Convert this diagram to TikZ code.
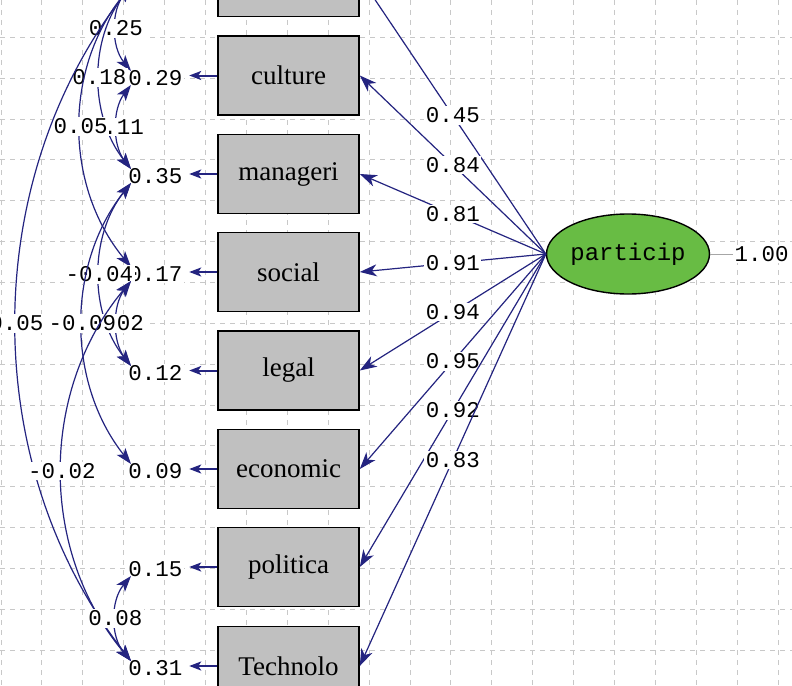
\documentclass[tikz,border=0pt]{standalone}
\usepackage{fontspec}
\setmainfont{Liberation Serif}
\newfontfamily\monofont{Liberation Mono}
\usetikzlibrary{arrows.meta,shapes.geometric,calc}
\definecolor{navy}{RGB}{36,36,128}
\definecolor{gridc}{RGB}{200,200,200}
\definecolor{boxgray}{RGB}{192,192,192}
\definecolor{latgreen}{RGB}{104,188,68}
\begin{document}
\begin{tikzpicture}[x=1pt,y=-1pt,
  obs/.style={rectangle, draw=black, line width=1.6pt, fill=boxgray, minimum width=141pt, minimum height=79pt, inner sep=0pt, font=\fontsize{27}{27}\selectfont},
  lat/.style={ellipse, draw=black, line width=1.4pt, fill=latgreen, minimum width=140pt, minimum height=80pt, inner sep=0pt, font=\monofont\fontsize{24}{24}\selectfont},
  num/.style={font=\monofont\fontsize{22.5}{22.5}\selectfont, inner sep=1.5pt, fill=white, text=black},
  load/.style={draw=navy, line width=1.2pt, -{Stealth[length=17pt,width=12pt,inset=5pt]}},
  errarr/.style={draw=navy, line width=2pt, -{Stealth[length=12pt,width=9pt,inset=3pt]}, shorten >=5pt},
  cov/.style={draw=navy, line width=1.2pt, {Stealth[length=16pt,width=11pt,inset=4pt]}-{Stealth[length=16pt,width=11pt,inset=4pt]}},
  gridline/.style={draw=gridc, line width=1pt, dash pattern=on 5pt off 5pt},
  resline/.style={draw=gray!70, line width=1pt}
]
\useasboundingbox (0,0) rectangle (792,685);
\clip (0,0) rectangle (792,685);
\fill[white] (0,0) rectangle (792,685);
% grid
\foreach \k in {0,...,19} \draw[gridline] ({1+40.9*\k},0) -- ({1+40.9*\k},685);
\foreach \k in {0,...,17} \draw[gridline] (0,{-3.5+40.85*\k}) -- (792,{-3.5+40.85*\k});
% observed variables
\node[obs] (v0) at (288.5,-23) {};
\node[obs] (v1) at (288.5,75.5) {culture};
\node[obs] (v2) at (288.5,174) {manageri};
\node[obs] (v3) at (288.5,272) {social};
\node[obs] (v4) at (288.5,370.5) {legal};
\node[obs] (v5) at (288.5,469) {economic};
\node[obs] (v6) at (288.5,567) {politica};
\node[obs] (v7) at (288.5,666) {Technolo};
% latent
\node[lat] (p) at (628,254) {particip};
\node[num, anchor=west] (pres) at (733,254) {1.00};
\draw[resline] (p.east) -- (pres.west);
% loadings
\foreach \i/\lab in {0/0.45,1/0.84,2/0.81,3/0.91,4/0.94,5/0.95,6/0.92,7/0.83}
  \draw[load] (p.west) -- (v\i.east) node[num,pos=0.5] {\lab};
% error variances
\foreach \i/\y/\lab in {1/78/0.29, 2/176/0.35, 3/274/0.17, 4/373/0.12, 5/471/0.09, 6/569/0.15, 7/668/0.31} {
  \node[num] (r\i) at (155.5,\y) {\lab};
  \draw[errarr] (v\i.west) -- (v\i.west -| r\i.east);
}
% attachment points of the covariances
\coordinate (e0b) at (131,-14);
\coordinate (e1t) at (131,71); \coordinate (e1b) at (131,85);
\coordinate (e2t) at (131,169); \coordinate (e2b) at (131,183);
\coordinate (e3t) at (131,267); \coordinate (e3b) at (131,281);
\coordinate (e4t) at (131,366);
\coordinate (e5t) at (131,464);
\coordinate (e6b) at (131,576);
\coordinate (e7t) at (131,661);
% covariances
\foreach \s/\e/\dx/\d/\lab in {
 e0b/e1t/-20/24.7/0.25,
 e0b/e2t/-42/53/0.18,
 e1b/e2t/-18.7/24.4/0.11,
 e0b/e3t/-67.3/81.5/0.05,
 e2b/e4t/-42/53/-0.04,
 e3b/e4t/-18.7/24.7/0.02,
 e2b/e5t/-64.7/81.5/-0.09,
 e0b/e7t/-152.7/195.8/0.05,
 e3b/e7t/-92/110/-0.02,
 e6b/e7t/-20.7/24.7/0.08}
{ \draw[cov] (\s) .. controls ($(\s)+(\dx,\d)$) and ($(\e)+(\dx,-\d)$) .. (\e) node[num,pos=0.5] {\lab}; }
\end{tikzpicture}
\end{document}
